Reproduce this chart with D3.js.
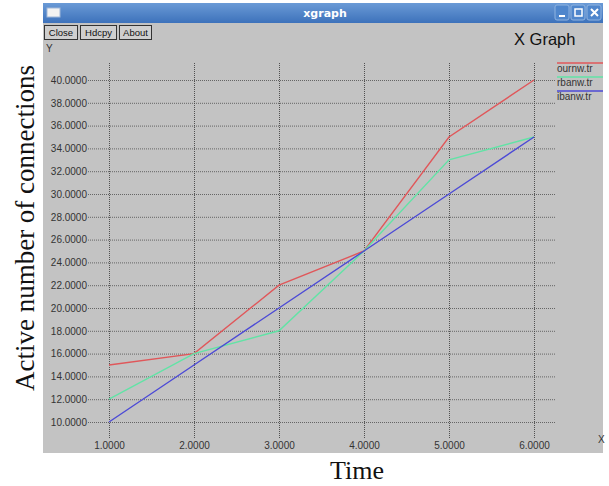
<!DOCTYPE html>
<html>
<head>
<meta charset="utf-8">
<script src="https://cdn.jsdelivr.net/npm/d3@7"></script>
<style>
  body { margin: 0; background: #fff; }
  svg { display: block; }
</style>
</head>
<body>
<div id="chart"></div>
<script>
// data
const xValues = [1, 2, 3, 4, 5, 6];
const ournw = [15, 16, 22, 25, 35, 40];
const rbanw = [12, 16, 18, 25, 33, 35];
const ibanw = [10, 15, 20, 25, 30, 35];
const seriesNames = ["ournw.tr", "rbanw.tr", "ibanw.tr"];
const seriesColors = ["#e0575a", "#62e3a6", "#4c4ad6"];
const yTicks = d3.range(10, 41, 2);
const buttonLabels = ["Close", "Hdcpy", "About"];

const W = 609, H = 486;

const svg = d3.select("#chart").append("svg")
    .attr("width", W)
    .attr("height", H);

// window frame
svg.append("rect").attr("x", 43).attr("y", 22).attr("width", 560).attr("height", 431)
    .attr("fill", "#c3c3c3");

// title bar gradient
const defs = svg.append("defs");
const grad = defs.append("linearGradient").attr("id", "tb").attr("x1", 0).attr("x2", 0).attr("y1", 0).attr("y2", 1);
grad.append("stop").attr("offset", "0%").attr("stop-color", "#6a9ad6");
grad.append("stop").attr("offset", "100%").attr("stop-color", "#3d72bb");
svg.append("rect").attr("x", 43).attr("y", 3).attr("width", 560).attr("height", 20).attr("fill", "url(#tb)");
svg.append("rect").attr("x", 47).attr("y", 8).attr("width", 13).attr("height", 9)
    .attr("fill", "#f2f2f2").attr("stroke", "#9fb7d8");
svg.append("text").attr("x", 325).attr("y", 17).attr("text-anchor", "middle")
    .attr("fill", "#fff").attr("font-family", "DejaVu Sans, sans-serif").attr("font-weight", "bold")
    .attr("font-size", 11).text("xgraph");

// window controls
const ctrl = svg.append("g");
[0, 1, 2].forEach(i => {
    const cx = 555 + i * 16;
    ctrl.append("rect").attr("x", cx).attr("y", 5).attr("width", 14).attr("height", 15).attr("rx", 2)
        .attr("fill", "#4f86cc").attr("stroke", "#8fb3e0");
});
ctrl.append("rect").attr("x", 559).attr("y", 15).attr("width", 6).attr("height", 2).attr("fill", "#fff");
ctrl.append("rect").attr("x", 575).attr("y", 9).attr("width", 7).attr("height", 7).attr("fill", "none").attr("stroke", "#fff").attr("stroke-width", 1.5);
ctrl.append("path").attr("d", "M591,9 L598,16 M598,9 L591,16").attr("stroke", "#fff").attr("stroke-width", 2);

// buttons
const btnX = [44, 80, 119], btnW = [33, 36, 32];
buttonLabels.forEach((b, i) => {
    svg.append("rect").attr("x", btnX[i] + 0.5).attr("y", 25.5).attr("width", btnW[i]).attr("height", 14)
        .attr("fill", "#cfcfcf").attr("stroke", "#333");
    svg.append("text").attr("x", btnX[i] + btnW[i] / 2 + 0.5).attr("y", 36)
        .attr("text-anchor", "middle").attr("font-family", "Liberation Sans, Arial, sans-serif")
        .attr("font-size", 9.5).attr("fill", "#111").text(b);
});

svg.append("text").attr("x", 46).attr("y", 52).attr("font-family", "Liberation Sans, Arial, sans-serif")
    .attr("font-size", 10).attr("fill", "#333").text("Y");
svg.append("text").attr("x", 514).attr("y", 45).attr("font-family", "Liberation Sans, Arial, sans-serif")
    .attr("font-size", 16.5).attr("fill", "#111").text("X Graph");
svg.append("text").attr("x", 598).attr("y", 443).attr("font-family", "Liberation Sans, Arial, sans-serif")
    .attr("font-size", 10).attr("fill", "#333").text("X");

// scales
const x = d3.scaleLinear().domain([1, 6]).range([109, 534]);
const y = d3.scaleLinear().domain([10, 40]).range([422, 80]);

// horizontal grid + y labels
const yAxis = svg.append("g")
    .attr("transform", "translate(88,0)")
    .call(d3.axisLeft(y).tickValues(yTicks).tickFormat(d3.format(".4f"))
        .tickSize(-(556 - 88)).tickPadding(1));
yAxis.select(".domain").remove();
yAxis.selectAll(".tick line").attr("stroke", "#555").attr("stroke-dasharray", "1,1").attr("stroke-opacity", 0.85);
yAxis.selectAll(".tick text").attr("font-family", "Liberation Sans, Arial, sans-serif")
    .attr("font-size", 10).attr("fill", "#333");

// vertical grid + x labels
const xAxis = svg.append("g")
    .attr("transform", "translate(0,438)")
    .call(d3.axisBottom(x).tickValues(xValues).tickFormat(d3.format(".4f"))
        .tickSize(-(438 - 63)).tickPadding(4));
xAxis.select(".domain").remove();
xAxis.selectAll(".tick line").attr("stroke", "#444").attr("stroke-dasharray", "1,1").attr("stroke-opacity", 0.9);
xAxis.selectAll(".tick text").attr("font-family", "Liberation Sans, Arial, sans-serif")
    .attr("font-size", 10).attr("fill", "#333");

// series lines
const line = d3.line().x((d, i) => x(xValues[i])).y(d => y(d));
[ournw, rbanw, ibanw].forEach((s, i) => {
    svg.append("path").datum(s)
        .attr("d", line)
        .attr("fill", "none")
        .attr("stroke", seriesColors[i])
        .attr("stroke-width", 1.4);
});

// legend
seriesNames.forEach((n, i) => {
    const ly = 63 + i * 14;
    svg.append("line").attr("x1", 557).attr("x2", 603).attr("y1", ly).attr("y2", ly)
        .attr("stroke", seriesColors[i]).attr("stroke-width", 1.5);
    svg.append("text").attr("x", 557).attr("y", ly + 9)
        .attr("font-family", "Liberation Sans, Arial, sans-serif").attr("font-size", 10)
        .attr("fill", "#333").text(n);
});

// outer axis titles
svg.append("text")
    .attr("transform", "translate(34,228) rotate(-90)")
    .attr("text-anchor", "middle")
    .attr("font-family", "Liberation Serif, Times New Roman, serif")
    .attr("font-size", 27).attr("fill", "#111")
    .text("Active number of connections");
svg.append("text")
    .attr("x", 357).attr("y", 479)
    .attr("text-anchor", "middle")
    .attr("font-family", "Liberation Serif, Times New Roman, serif")
    .attr("font-size", 26).attr("fill", "#111")
    .text("Time");
</script>
</body>
</html>
